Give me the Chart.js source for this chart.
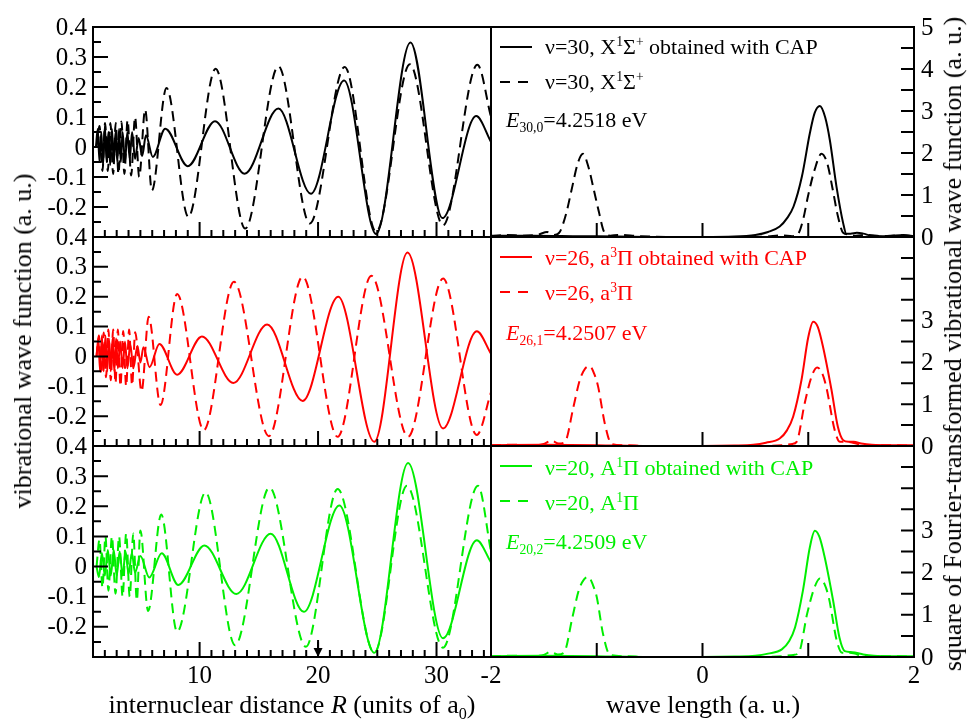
<!DOCTYPE html>
<html><head><meta charset="utf-8">
<script src="https://cdn.jsdelivr.net/npm/chart.js@4.4.1/dist/chart.umd.min.js"></script>
<style>
html,body{margin:0;padding:0;background:#fff;}
#wrap{position:relative;width:969px;height:725px;overflow:hidden;font-family:"Liberation Serif","Times New Roman",serif;}
canvas{position:absolute;left:0;top:0;}
.t{position:absolute;white-space:nowrap;line-height:26px;}
.rot{transform:translate(-50%,-50%) rotate(-90deg);}
.ctr{transform:translate(-50%,-50%);}
.lg{font-size:22px;}
sup,sub{font-size:0.62em;line-height:0;}
</style></head><body>
<div id="wrap">
<canvas id="c0" width="969" height="725"></canvas>
<canvas id="c1" width="969" height="725"></canvas>
<canvas id="c2" width="969" height="725"></canvas>
<canvas id="c3" width="969" height="725"></canvas>
<canvas id="c4" width="969" height="725"></canvas>
<canvas id="c5" width="969" height="725"></canvas>
<div class="t rot" style="left:23px;top:341px;font-size:26px;">vibrational wave function (a. u.)</div>
<div class="t rot" style="left:953px;top:344px;font-size:26px;">square of Fourier-transformed vibrational wave function (a. u.)</div>
<div class="t ctr" style="left:292px;top:705px;font-size:26px;">internuclear distance <i>R</i> (units of a<sub>0</sub>)</div>
<div class="t ctr" style="left:703px;top:705px;font-size:26px;">wave length (a. u.)</div>
<div class="t lg" style="left:545px;top:34px;color:#000;">ν=30, X<sup>1</sup>Σ<sup>+</sup> obtained with CAP</div>
<div class="t lg" style="left:545px;top:69px;color:#000;">ν=30, X<sup>1</sup>Σ<sup>+</sup></div>
<div class="t lg" style="left:506px;top:107px;color:#000;"><i>E</i><sub>30,0</sub>=4.2518 eV</div>
<div class="t lg" style="left:545px;top:245px;color:#ff0000;">ν=26, a<sup>3</sup>Π obtained with CAP</div>
<div class="t lg" style="left:545px;top:280px;color:#ff0000;">ν=26, a<sup>3</sup>Π</div>
<div class="t lg" style="left:506px;top:320px;color:#ff0000;"><i>E</i><sub>26,1</sub>=4.2507 eV</div>
<div class="t lg" style="left:545px;top:455px;color:#00ee00;">ν=20, A<sup>1</sup>Π obtained with CAP</div>
<div class="t lg" style="left:545px;top:490px;color:#00ee00;">ν=20, A<sup>1</sup>Π</div>
<div class="t lg" style="left:506px;top:529px;color:#00ee00;"><i>E</i><sub>20,2</sub>=4.2509 eV</div>
</div>
<script>
// ---------- wave functions vs internuclear distance R ----------
const xCapR = [1.25,1.4,1.55,1.7,1.85,2.0,2.15,2.3,2.45,2.6,2.75,2.9,3.05,3.2,3.35,3.5,3.7,3.9,4.1,4.3,4.55,4.85,5.15,5.47,6.05,7.1,9.0,11.3,13.8,16.65,19.4,22.2,24.9,27.8,30.5,33.35,34.6];
const xCapV = [0.0,0.06,-0.05,0.05,-0.06,0.07,-0.05,0.05,-0.06,0.06,-0.05,0.05,-0.05,0.06,-0.05,0.05,-0.05,0.05,-0.04,0.05,-0.04,0.03,-0.03,0.039,-0.033,0.061,-0.064,0.086,-0.089,0.128,-0.156,0.222,-0.29,0.348,-0.237,0.103,0.017];
const xRefR = [1.3,1.55,1.8,2.02,2.25,2.47,2.7,2.92,3.15,3.4,3.65,3.92,4.22,4.55,4.9,5.4,5.97,7.2,9.05,11.35,13.85,16.65,19.3,22.25,24.9,27.75,30.55,33.45,34.6];
const xRefV = [0.0,0.07,-0.08,0.08,-0.08,0.08,-0.09,0.08,-0.09,0.085,-0.09,0.09,-0.095,0.1,-0.1,0.125,-0.145,0.197,-0.233,0.261,-0.272,0.269,-0.255,0.267,-0.283,0.276,-0.261,0.274,0.1];

const aCapR = [1.3,1.45,1.6,1.75,1.9,2.05,2.2,2.35,2.5,2.65,2.8,2.95,3.1,3.3,3.5,3.7,3.9,4.15,4.4,4.75,5.0,5.26,5.77,6.6,8.1,10.2,12.85,15.7,18.7,21.7,24.75,27.55,30.55,33.4,34.6];
const aCapV = [0.0,0.06,-0.05,0.07,-0.05,0.07,-0.05,0.06,-0.05,0.06,-0.05,0.06,-0.04,0.05,-0.04,0.05,-0.04,0.04,-0.04,0.035,-0.02,0.031,-0.036,0.042,-0.061,0.067,-0.089,0.107,-0.149,0.2,-0.286,0.348,-0.241,0.084,0.009];
const aRefR = [1.3,1.5,1.7,1.9,2.1,2.3,2.5,2.7,2.9,3.1,3.32,3.55,3.8,4.05,4.3,4.56,5.1,5.7,6.7,8.1,10.35,12.9,15.85,18.7,21.65,24.5,27.6,30.55,33.4,34.6];
const aRefV = [0.0,0.07,-0.06,0.08,-0.07,0.09,-0.08,0.09,-0.09,0.09,-0.1,0.085,-0.1,0.09,-0.097,0.081,-0.117,0.133,-0.163,0.209,-0.247,0.25,-0.267,0.267,-0.269,0.27,-0.269,0.261,-0.263,-0.12];

const ACapR = [1.3,1.5,1.75,2.0,2.25,2.5,2.75,3.0,3.25,3.5,3.75,4.0,4.28,4.55,5.0,5.75,6.8,8.2,10.4,13.1,16.0,18.8,21.8,24.75,27.6,30.55,33.4,34.6];
const ACapV = [0.0,-0.035,0.045,-0.03,0.055,-0.03,0.055,-0.03,0.05,-0.03,0.05,-0.025,0.045,-0.02,0.035,-0.036,0.044,-0.061,0.07,-0.091,0.109,-0.15,0.203,-0.286,0.344,-0.238,0.087,0.014];
const ARefR = [1.3,1.55,1.8,2.05,2.3,2.6,2.9,3.2,3.5,3.8,4.1,4.4,4.7,5.0,5.65,6.76,8.1,10.5,13.0,15.9,18.97,21.65,24.75,27.5,30.55,33.5,34.6];
const ARefV = [0.0,0.09,-0.07,0.1,-0.08,0.1,-0.09,0.1,-0.1,0.11,-0.1,0.11,-0.113,0.12,-0.147,0.173,-0.216,0.246,-0.261,0.262,-0.266,0.257,-0.286,0.268,-0.269,0.268,0.05];

// ---------- squared Fourier transforms vs wave length ----------
const xCapK = [-2,-1.6,-1.2,-0.8,-0.4,0,0.3,0.5,0.62,0.73,0.8,0.86,0.94,1.015,1.06,1.11,1.16,1.204,1.267,1.33,1.36,1.4,1.46,1.52,1.6,1.75,1.9,2.0];
const xCapS = [0.03,0.03,0.02,0.01,0.0,0.0,0.01,0.05,0.12,0.25,0.45,0.72,1.44,2.47,2.95,3.12,2.85,2.31,1.2,0.33,0.08,0.08,0.1,0.08,0.03,0.02,0.05,0.02];
const xRefK = [-2,-1.85,-1.7,-1.55,-1.47,-1.4,-1.35,-1.29,-1.24,-1.18,-1.13,-1.08,-1.03,-0.98,-0.93,-0.87,-0.8,-0.6,-0.3,0,0.3,0.6,0.75,0.85,0.9,0.95,1.0,1.06,1.125,1.18,1.23,1.28,1.33,1.38,1.45,1.55,1.7,1.85,2.0];
const xRefS = [0.02,0.05,0.03,0.06,0.12,0.05,0.12,0.55,1.1,1.75,1.98,1.68,1.15,0.6,0.12,0.03,0.05,0.02,0.0,0.0,0.0,0.01,0.04,0.02,0.06,0.4,1.0,1.6,1.98,1.75,1.15,0.5,0.1,0.06,0.03,0.05,0.02,0.04,0.02];

const aCapK = [-2,-1.5,-1.0,-0.5,0,0.3,0.48,0.6,0.73,0.8,0.857,0.936,1.0,1.046,1.09,1.14,1.22,1.28,1.33,1.38,1.43,1.5,1.6,1.8,2.0];
const aCapS = [0.02,0.03,0.02,0.0,0.0,0.01,0.03,0.08,0.18,0.38,0.7,1.58,2.6,2.97,2.85,2.37,1.34,0.46,0.14,0.1,0.1,0.06,0.03,0.02,0.02];
const aRefK = [-2,-1.8,-1.6,-1.5,-1.43,-1.36,-1.3,-1.22,-1.16,-1.11,-1.066,-1.02,-0.987,-0.924,-0.86,-0.75,-0.5,0,0.5,0.75,0.85,0.89,0.967,1.03,1.084,1.13,1.17,1.25,1.30,1.36,1.42,1.5,1.7,2.0];
const aRefS = [0.02,0.03,0.02,0.05,0.13,0.06,0.1,0.94,1.58,1.85,1.91,1.7,1.42,0.54,0.05,0.02,0.0,0.0,0.0,0.02,0.05,0.1,1.03,1.65,1.88,1.75,1.42,0.38,0.1,0.1,0.08,0.03,0.02,0.01];

const ACapK = [-2,-1.5,-1.0,-0.5,0,0.3,0.5,0.62,0.75,0.82,0.875,0.95,1.015,1.062,1.105,1.155,1.235,1.295,1.345,1.4,1.45,1.52,1.62,1.8,2.0];
const ACapS = [0.02,0.03,0.02,0.0,0.0,0.01,0.03,0.08,0.18,0.38,0.7,1.58,2.6,2.99,2.85,2.37,1.34,0.46,0.14,0.12,0.1,0.06,0.03,0.02,0.02];
const ARefK = [-2,-1.8,-1.6,-1.5,-1.44,-1.37,-1.31,-1.23,-1.17,-1.12,-1.08,-1.035,-1.0,-0.94,-0.875,-0.75,-0.5,0,0.5,0.75,0.86,0.91,0.99,1.055,1.11,1.155,1.195,1.27,1.32,1.38,1.44,1.5,1.7,2.0];
const ARefS = [0.02,0.03,0.02,0.05,0.12,0.06,0.1,0.94,1.58,1.84,1.9,1.7,1.42,0.54,0.05,0.02,0.0,0.0,0.0,0.02,0.05,0.1,1.03,1.62,1.86,1.72,1.4,0.38,0.1,0.1,0.08,0.03,0.02,0.01];

// ---------- tick labels ----------
const leftYTicks = [-0.2,-0.1,0,0.1,0.2,0.3,0.4];
const leftXTicks = [10,20,30];
const rightYTicksTop = [0,1,2,3,4,5];
const rightYTicksLow = [0,1,2,3];
const rightXTicks = [-2,0,2];
const arrowR = 20;

const colors = ['#000000','#ff0000','#00ee00'];
const W = 969, H = 725;
const rowsY = [[27,237],[237,446],[446,657]];
const FONT = '25px "Liberation Serif"';

function pts(xs, ys){ return xs.map((x,i)=>({x:x, y:ys[i]})); }
function fmt(v){ return (Math.round(v*10)/10).toString(); }

function leftDecor(row){
  return {id:'ld'+row, afterDatasetsDraw(chart){
    const ctx=chart.ctx, a=chart.chartArea, xs=chart.scales.x, ys=chart.scales.y;
    ctx.save();
    ctx.strokeStyle='#000'; ctx.lineWidth=2;
    ctx.strokeRect(a.left,a.top,a.right-a.left,a.bottom-a.top);
    ctx.beginPath();
    for(let k=-5;k<=7;k++){
      const v=k*0.05, py=ys.getPixelForValue(v), len=(k%2===0)?15:8;
      ctx.moveTo(a.left,py); ctx.lineTo(a.left+len,py);
    }
    for(let r=2;r<=34;r++){
      const px=xs.getPixelForValue(r), len=(r%10===0)?15:7;
      ctx.moveTo(px,a.bottom); ctx.lineTo(px,a.bottom-len);
    }
    ctx.stroke();
    ctx.fillStyle='#000'; ctx.font=FONT; ctx.textAlign='right'; ctx.textBaseline='middle';
    leftYTicks.forEach(v=>{ ctx.fillText(fmt(v), a.left-6, ys.getPixelForValue(v)+1); });
    if(row===2){
      ctx.textAlign='center';
      leftXTicks.forEach(v=>{ ctx.fillText(String(v), xs.getPixelForValue(v), a.bottom+19); });
      const px=xs.getPixelForValue(arrowR);
      ctx.lineWidth=2; ctx.beginPath(); ctx.moveTo(px,a.bottom-17); ctx.lineTo(px,a.bottom-7); ctx.stroke();
      ctx.beginPath(); ctx.moveTo(px-4.5,a.bottom-9); ctx.lineTo(px+4.5,a.bottom-9); ctx.lineTo(px,a.bottom); ctx.closePath(); ctx.fill();
    }
    ctx.restore();
  }};
}
function rightDecor(row){
  return {id:'rd'+row, afterDatasetsDraw(chart){
    const ctx=chart.ctx, a=chart.chartArea, xs=chart.scales.x, ys=chart.scales.y;
    ctx.save();
    ctx.strokeStyle='#000'; ctx.lineWidth=2;
    ctx.strokeRect(a.left,a.top,a.right-a.left,a.bottom-a.top);
    ctx.beginPath();
    for(let k=1;k<=9;k++){
      const py=ys.getPixelForValue(k*0.5);
      ctx.moveTo(a.right,py); ctx.lineTo(a.right-13,py);
    }
    [-1,0,1].forEach(v=>{ const px=xs.getPixelForValue(v); ctx.moveTo(px,a.bottom); ctx.lineTo(px,a.bottom-14); });
    ctx.stroke();
    ctx.fillStyle='#000'; ctx.font=FONT; ctx.textAlign='left'; ctx.textBaseline='middle';
    (row===0?rightYTicksTop:rightYTicksLow).forEach(v=>{ ctx.fillText(String(v), a.right+7, ys.getPixelForValue(v)+1); });
    if(row===2){
      ctx.textAlign='center';
      rightXTicks.forEach(v=>{ ctx.fillText(String(v), xs.getPixelForValue(v), a.bottom+19); });
    }
    // legend samples
    ctx.strokeStyle=colors[row]; ctx.lineWidth=2;
    const ly=a.top+20;
    ctx.beginPath(); ctx.moveTo(a.left+9,ly); ctx.lineTo(a.left+41,ly); ctx.stroke();
    ctx.setLineDash([10,8]);
    ctx.beginPath(); ctx.moveTo(a.left+9,ly+35); ctx.lineTo(a.left+41,ly+35); ctx.stroke();
    ctx.restore();
  }};
}

const leftSets = [[xCapR,xCapV,xRefR,xRefV],[aCapR,aCapV,aRefR,aRefV],[ACapR,ACapV,ARefR,ARefV]];
const rightSets = [[xCapK,xCapS,xRefK,xRefS],[aCapK,aCapS,aRefK,aRefS],[ACapK,ACapS,ARefK,ARefS]];

function makeChart(id, sets, color, box, xr, yr, decor){
  new Chart(document.getElementById(id), {
    type:'line',
    data:{datasets:[
      {data:pts(sets[0],sets[1]), borderColor:color, borderWidth:2, pointRadius:0, cubicInterpolationMode:'monotone', fill:false},
      {data:pts(sets[2],sets[3]), borderColor:color, borderWidth:2, borderDash:[10,6], pointRadius:0, cubicInterpolationMode:'monotone', fill:false}
    ]},
    options:{
      responsive:false, animation:false, events:[],
      layout:{padding:{left:box[0], top:box[1], right:W-box[2], bottom:H-box[3]}},
      scales:{
        x:{type:'linear', min:xr[0], max:xr[1], display:false},
        y:{type:'linear', min:yr[0], max:yr[1], display:false}
      },
      plugins:{legend:{display:false}, tooltip:{enabled:false}}
    },
    plugins:[decor]
  });
}

for(let r=0;r<3;r++){
  makeChart('c'+r, leftSets[r], colors[r], [93,rowsY[r][0],491,rowsY[r][1]], [1,34.6], [-0.3,0.4], leftDecor(r));
  makeChart('c'+(r+3), rightSets[r], colors[r], [491,rowsY[r][0],914,rowsY[r][1]], [-2,2], [0,5], rightDecor(r));
}
</script>
</body></html>
